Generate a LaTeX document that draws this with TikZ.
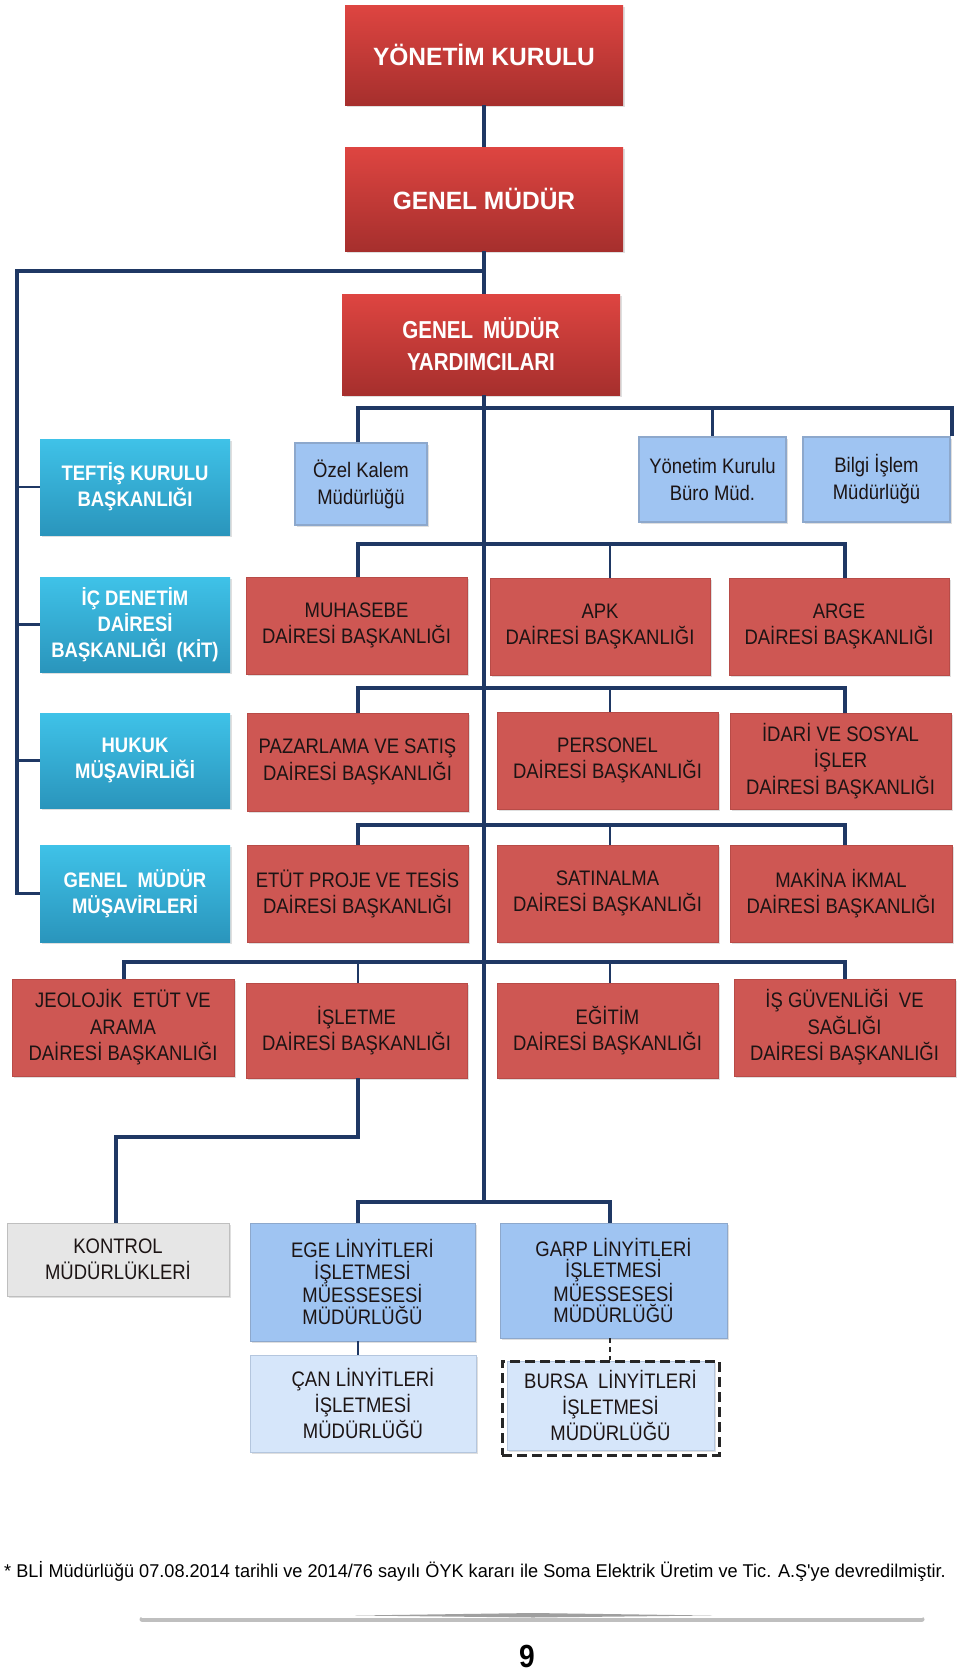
\documentclass[tikz,border=0pt]{standalone}
\usepackage{fontspec}
\setmainfont{Liberation Sans}
\newfontfamily\nar[FakeStretch=0.88]{Liberation Sans}
\newfontfamily\wid[FakeStretch=0.98]{Liberation Sans}
\newfontfamily\cnd[FakeStretch=0.84]{Liberation Sans}
\usetikzlibrary{shadows}
\definecolor{navy}{HTML}{1F3864}
\definecolor{tRedT}{HTML}{DE4541}
\definecolor{tRedB}{HTML}{A62F2D}
\definecolor{cyT}{HTML}{3FC2E8}
\definecolor{cyB}{HTML}{2A95BC}
\definecolor{deptF}{HTML}{CE5753}
\definecolor{deptE}{HTML}{B84B47}
\definecolor{deptT}{HTML}{1C1414}
\definecolor{staffF}{HTML}{9FC4F2}
\definecolor{staffE}{HTML}{8DA8CC}
\definecolor{liteF}{HTML}{D6E6FA}
\definecolor{liteE}{HTML}{B4C6DE}
\definecolor{konF}{HTML}{E6E6E6}
\definecolor{konE}{HTML}{BFBFBF}
\newcommand\bx[7]{%
  \node[#6, minimum width={(#4-#2)*1pt}, minimum height={(#5-#3)*1pt}] (#1) at ({(#2+#4)/2},{(#3+#5)/2}) {#7};}
\tikzset{
  box/.style={rectangle, inner sep=0pt, align=center,
    drop shadow={opacity=0.25, shadow xshift=1.5pt, shadow yshift=-1.5pt}},
  topred/.style={box, top color=tRedT, bottom color=tRedB, text=white,
    font=\wid\bfseries\fontsize{25}{32}\selectfont},
  gmybox/.style={topred, font=\cnd\bfseries\fontsize{24.5}{32}\selectfont},
  cyanbox/.style={box, top color=cyT, bottom color=cyB, text=white,
    font=\nar\bfseries\fontsize{21}{26}\selectfont},
  dept/.style={box, fill=deptF, draw=deptE, line width=0.8pt, text=deptT,
    font=\nar\fontsize{21}{26.5}\selectfont},
  staff/.style={box, fill=staffF, draw=staffE, line width=1.2pt, text=deptT,
    font=\nar\fontsize{21}{27}\selectfont},
  mue/.style={box, fill=staffF, draw=staffE, line width=0.8pt, text=deptT,
    font=\nar\fontsize{21}{21.4}\selectfont},
  lite/.style={box, fill=liteF, draw=liteE, line width=0.8pt, text=deptT,
    font=\nar\fontsize{21}{26}\selectfont},
  konbox/.style={box, fill=konF, draw=konE, line width=1pt, text=deptT,
    font=\nar\fontsize{21}{26}\selectfont},
  bus/.style={draw=navy, line width=4pt},
  vline/.style={draw=navy, line width=3.2pt},
  stub/.style={draw=navy, line width=2.6pt},
}
\begin{document}
\begin{tikzpicture}[x=1pt,y=-1pt]
\useasboundingbox[fill=white] (0,0) rectangle (960,1674);

% ---- top boxes
\bx{yk}{345}{5}{623}{105}{topred}{YÖNETİM KURULU}
\bx{gm}{345}{147}{623}{251}{topred}{GENEL MÜDÜR}
\bx{gmy}{342}{294}{620}{395}{gmybox}{GENEL\hspace{0.4em}MÜDÜR\\YARDIMCILARI}

% ---- left column
\bx{tef}{40}{439}{230}{535}{cyanbox}{TEFTİŞ KURULU\\BAŞKANLIĞI}
\bx{icd}{40}{577}{230}{672}{cyanbox}{İÇ DENETİM\\DAİRESİ\\BAŞKANLIĞI\ \ (KİT)}
\bx{huk}{40}{713}{230}{808}{cyanbox}{HUKUK\\MÜŞAVİRLİĞİ}
\bx{gmm}{40}{845}{230}{942}{cyanbox}{GENEL\ \ MÜDÜR\\MÜŞAVİRLERİ}

% ---- staff units
\bx{ozel}{295}{443}{427}{525}{staff}{Özel Kalem\\Müdürlüğü}
\bx{ykb}{639}{437}{786}{522}{staff}{Yönetim Kurulu\\Büro Müd.}
\bx{bil}{803}{437}{950}{522}{staff}{Bilgi İşlem\\Müdürlüğü}

% ---- departments
\bx{muh}{246}{577}{467}{674}{dept}{MUHASEBE\\DAİRESİ BAŞKANLIĞI}
\bx{apk}{490}{578}{710}{675}{dept}{APK\\DAİRESİ BAŞKANLIĞI}
\bx{arge}{729}{578}{949}{675}{dept}{ARGE\\DAİRESİ BAŞKANLIĞI}

\bx{paz}{247}{713}{468}{811}{dept}{PAZARLAMA VE SATIŞ\\DAİRESİ BAŞKANLIĞI}
\bx{per}{497}{712}{718}{809}{dept}{PERSONEL\\DAİRESİ BAŞKANLIĞI}
\bx{ida}{730}{713}{951}{809}{dept}{İDARİ VE SOSYAL\\İŞLER\\DAİRESİ BAŞKANLIĞI}

\bx{etu}{247}{845}{468}{942}{dept}{ETÜT PROJE VE TESİS\\DAİRESİ BAŞKANLIĞI}
\bx{sat}{497}{845}{718}{942}{dept}{SATINALMA\\DAİRESİ BAŞKANLIĞI}
\bx{mak}{730}{845}{952}{942}{dept}{MAKİNA İKMAL\\DAİRESİ BAŞKANLIĞI}

\bx{jeo}{12}{979}{234}{1076}{dept}{JEOLOJİK\ \ ETÜT VE\\ARAMA\\DAİRESİ BAŞKANLIĞI}
\bx{isl}{246}{983}{467}{1078}{dept}{İŞLETME\\DAİRESİ BAŞKANLIĞI}
\bx{egi}{497}{983}{718}{1078}{dept}{EĞİTİM\\DAİRESİ BAŞKANLIĞI}
\bx{isg}{734}{979}{955}{1076}{dept}{İŞ GÜVENLİĞİ\ \ VE\\SAĞLIĞI\\DAİRESİ BAŞKANLIĞI}

% ---- bottom units
\bx{kon}{7}{1223}{229}{1296}{konbox}{KONTROL\\MÜDÜRLÜKLERİ}
\bx{ege}{250}{1223}{475}{1341}{mue}{EGE LİNYİTLERİ\\İŞLETMESİ\\MÜESSESESİ\\MÜDÜRLÜĞÜ}
\bx{garp}{500}{1223}{727}{1338}{mue}{GARP LİNYİTLERİ\\İŞLETMESİ\\MÜESSESESİ\\MÜDÜRLÜĞÜ}
\bx{can}{250}{1355}{476}{1452}{lite}{ÇAN LİNYİTLERİ\\İŞLETMESİ\\MÜDÜRLÜĞÜ}
\bx{bur}{507}{1361}{714}{1450}{lite}{BURSA\ \ LİNYİTLERİ\\İŞLETMESİ\\MÜDÜRLÜĞÜ}
\node[rectangle, draw=black!85, line width=3pt, dash pattern=on 10pt off 5pt,
  minimum width=217pt, minimum height=94pt, inner sep=0pt] (burd) at (610.5,1408) {};

% ---- connectors
\coordinate (lt) at (17,271);
\coordinate (b1L) at (358,408); \coordinate (b1R) at (952,408);
\coordinate (b2L) at (358,544); \coordinate (b2M) at (610,544); \coordinate (b2R) at (845,544);
\coordinate (b3L) at (358,688); \coordinate (b3M) at (610,688); \coordinate (b3R) at (845,688);
\coordinate (b4L) at (358,825); \coordinate (b4M) at (610,825); \coordinate (b4R) at (845,825);
\coordinate (b5J) at (124,962); \coordinate (b5L) at (358,962); \coordinate (b5M) at (610,962); \coordinate (b5R) at (845,962);
\coordinate (kk) at (116,1137);
\coordinate (b6L) at (358,1202); \coordinate (b6R) at (610,1202);

\draw[vline] (yk.south) -- (gm.north);
\draw[vline] (gm.south) -- (gmy.north -| gm.south);
\draw[vline] (gmy.south -| gm.south) -- (gm.south |- b6L);

% left column
\draw[vline, line width=3.6pt] (gm.south |- lt) -- (lt) -- (lt |- gmm.west) -- (gmm.west);
\draw[stub] (lt |- tef.west) -- (tef.west);
\draw[stub] (lt |- icd.west) -- (icd.west);
\draw[stub] (lt |- huk.west) -- (huk.west);

% staff bus
\draw[bus] (b1L |- ozel.north) -- (b1L) -- (b1R) -- (b1R |- bil.north);
\draw[stub] (ykb.north |- b1L) -- (ykb.north);

% department buses
\draw[bus] (b2L |- muh.north) -- (b2L) -- (b2R) -- (b2R |- arge.north);
\draw[stub] (b2M) -- (b2M |- apk.north);
\draw[bus] (b3L |- paz.north) -- (b3L) -- (b3R) -- (b3R |- ida.north);
\draw[stub] (b3M) -- (b3M |- per.north);
\draw[bus] (b4L |- etu.north) -- (b4L) -- (b4R) -- (b4R |- mak.north);
\draw[stub] (b4M) -- (b4M |- sat.north);
\draw[bus] (b5J |- jeo.north) -- (b5J) -- (b5R) -- (b5R |- isg.north);
\draw[stub] (b5L) -- (b5L |- isl.north);
\draw[stub] (b5M) -- (b5M |- egi.north);

% işletme -> kontrol
\draw[vline] (isl.south -| b5L) |- (kk) -- (kk |- kon.north);

% bottom bus
\draw[bus] (b6L |- ege.north) -- (b6L) -- (b6R) -- (b6R |- garp.north);
\draw[stub] (b6L |- ege.south) -- (b6L |- can.north);
\draw[black!85, line width=2.4pt, dash pattern=on 5pt off 4pt] (b6R |- garp.south) -- (b6R |- burd.north);

% ---- footnote and page decoration
\node[font=\wid\fontsize{18.5}{20}\selectfont, inner sep=0pt] (fn) at (475,1571)
  {* BLİ Müdürlüğü 07.08.2014 tarihli ve 2014/76 sayılı ÖYK kararı ile Soma Elektrik Üretim ve Tic. A.Ş'ye devredilmiştir.};
\draw[gray!50, line width=5pt, line cap=round] (142,1619) -- (922,1619);
\draw[white, line width=3pt, line cap=round] (142,1616.5) -- (922,1616.5);
\fill[gray!75] (355,1615.5) -- (533,1613) -- (712,1615.5) -- (533,1617.5) -- cycle;
\node[font=\nar\bfseries\fontsize{32}{32}\selectfont, inner sep=0pt] (pg) at (527,1656) {9};
\end{tikzpicture}
\end{document}
